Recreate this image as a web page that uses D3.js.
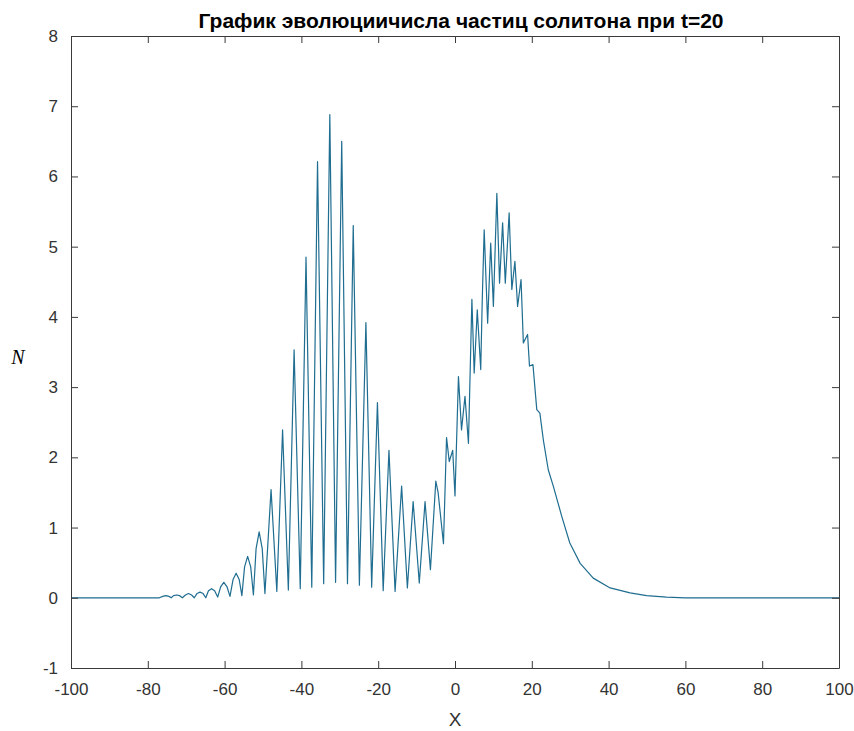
<!DOCTYPE html>
<html>
<head>
<meta charset="utf-8">
<script src="https://cdn.jsdelivr.net/npm/d3@7"></script>
<style>
  html, body { margin: 0; padding: 0; background: #fff; }
  svg { display: block; }
</style>
</head>
<body>
<svg id="chart" width="854" height="731"></svg>
<script>
// Soliton particle number N(x) at t = 20
const xValues = [
  -100, -77.0,
  -76.1, -75.3, -74.5, -73.9, -73.3, -72.5, -71.7, -71.0,
  -70.2, -69.4, -68.6, -67.9, -67.2, -66.4, -65.6, -64.9,
  -64.2, -63.4, -62.6, -61.8, -61.0, -60.2, -59.4, -58.6,
  -57.8, -57.0, -56.2, -55.5, -54.8, -54.0, -53.2, -52.5,
  -51.8, -51.0, -50.2, -49.5, -47.9, -46.4, -44.9, -43.4,
  -41.9, -40.3, -38.8, -37.3, -35.8, -34.2, -32.6, -31.1,
  -29.5, -28.0, -26.5, -24.9, -23.2, -21.7, -20.2, -18.7,
  -17.2, -15.6, -13.9, -12.4, -10.9, -9.3, -7.8, -6.4,
  -5.0, -4.4, -3.0, -2.2, -1.5, -0.6, 0.0, 0.9,
  1.7, 2.6, 3.5, 4.4, 5.0, 5.8, 6.7, 7.1,
  7.6, 8.5, 9.3, 10.0, 10.9, 11.6, 12.4, 13.1,
  14.1, 14.8, 15.6, 16.3, 17.2, 17.8, 18.9, 19.4,
  20.3, 21.3, 22.1, 23.0, 24.3, 25.6, 27.8, 29.9,
  32.6, 36.0, 40.4, 45.6, 49.9, 55.1, 60.0, 100
];
const nValues = [
  0, 0,
  0.02, 0.03, 0.02, 0.0, 0.03, 0.04, 0.03, 0.0,
  0.04, 0.06, 0.04, 0.0, 0.06, 0.08, 0.06, 0.0,
  0.10, 0.13, 0.10, 0.01, 0.16, 0.22, 0.16, 0.02,
  0.26, 0.35, 0.26, 0.03, 0.44, 0.59, 0.44, 0.04,
  0.70, 0.94, 0.70, 0.06, 1.54, 0.09, 2.39, 0.11,
  3.53, 0.13, 4.85, 0.15, 6.21, 0.20, 6.88, 0.22,
  6.50, 0.20, 5.30, 0.18, 3.92, 0.15, 2.78, 0.10,
  2.10, 0.09, 1.59, 0.14, 1.37, 0.21, 1.37, 0.40,
  1.66, 1.50, 0.77, 2.28, 1.94, 2.10, 1.45, 3.15,
  2.39, 2.87, 2.20, 4.25, 3.20, 4.10, 3.25, 4.25,
  5.24, 3.91, 5.05, 4.15, 5.76, 4.48, 5.34, 4.48,
  5.48, 4.39, 4.79, 4.15, 4.53, 3.63, 3.75, 3.30,
  3.32, 2.68, 2.63, 2.25, 1.82, 1.59, 1.16, 0.78,
  0.49, 0.28, 0.14, 0.07, 0.03, 0.01, 0, 0
];
const xTicks = [-100, -80, -60, -40, -20, 0, 20, 40, 60, 80, 100];
const yTicks = [-1, 0, 1, 2, 3, 4, 5, 6, 7, 8];
const titleText = "График эволюциичисла частиц солитона при t=20";
const xLabel = "X";
const yLabel = "N";

const W = 854, H = 731;
const margin = { left: 71, right: 15, top: 36, bottom: 63 };
const svg = d3.select("#chart");

const x = d3.scaleLinear().domain([-100, 100]).range([margin.left, W - margin.right]);
const y = d3.scaleLinear().domain([-1, 8]).range([H - margin.bottom, margin.top]);

const axisColor = "#3a3a3a";
const textColor = "#333333";
const tickFont = "17px 'Liberation Sans', Arial, Helvetica, sans-serif";
const fmt = d => String(d);

// curve
const points = xValues.map((v, i) => [v, nValues[i]]);
const line = d3.line().x(d => x(d[0])).y(d => y(d[1]));
svg.append("path")
  .datum(points)
  .attr("fill", "none")
  .attr("stroke", "#1f6d90")
  .attr("stroke-width", 1.2)
  .attr("stroke-linejoin", "round")
  .attr("d", line);

function styleAxis(g) {
  g.selectAll(".domain").attr("stroke", axisColor).attr("stroke-width", 1);
  g.selectAll(".tick line").attr("stroke", axisColor).attr("stroke-width", 1);
  g.selectAll(".tick text").attr("fill", textColor).style("font", tickFont);
}

// bottom axis with labels, inward ticks
svg.append("g")
  .attr("transform", `translate(0,${y(-1)})`)
  .call(d3.axisBottom(x).tickValues(xTicks).tickFormat(fmt).tickSize(-7).tickSizeOuter(0).tickPadding(15))
  .call(styleAxis);

// top axis, ticks only
svg.append("g")
  .attr("transform", `translate(0,${y(8)})`)
  .call(d3.axisTop(x).tickValues(xTicks).tickFormat("").tickSize(-7).tickSizeOuter(0))
  .call(styleAxis);

// left axis with labels
svg.append("g")
  .attr("transform", `translate(${x(-100)},0)`)
  .call(d3.axisLeft(y).tickValues(yTicks).tickFormat(fmt).tickSize(-7).tickSizeOuter(0).tickPadding(13))
  .call(styleAxis);

// right axis, ticks only
svg.append("g")
  .attr("transform", `translate(${x(100)},0)`)
  .call(d3.axisRight(y).tickValues(yTicks).tickFormat("").tickSize(-7).tickSizeOuter(0))
  .call(styleAxis);

// title
svg.append("text")
  .attr("x", (x(-100) + x(100)) / 2 + 6)
  .attr("y", 28)
  .attr("text-anchor", "middle")
  .attr("fill", "#000")
  .style("font", "bold 21px 'Liberation Sans', Arial, Helvetica, sans-serif")
  .text(titleText);

// x label
svg.append("text")
  .attr("x", x(0))
  .attr("y", 726)
  .attr("text-anchor", "middle")
  .attr("fill", textColor)
  .style("font", "19px 'Liberation Sans', Arial, Helvetica, sans-serif")
  .text(xLabel);

// y label
svg.append("text")
  .attr("x", 18)
  .attr("y", 364)
  .attr("text-anchor", "middle")
  .attr("fill", "#000")
  .style("font", "italic 20px 'Liberation Serif', 'Times New Roman', serif")
  .text(yLabel);
</script>
</body>
</html>
